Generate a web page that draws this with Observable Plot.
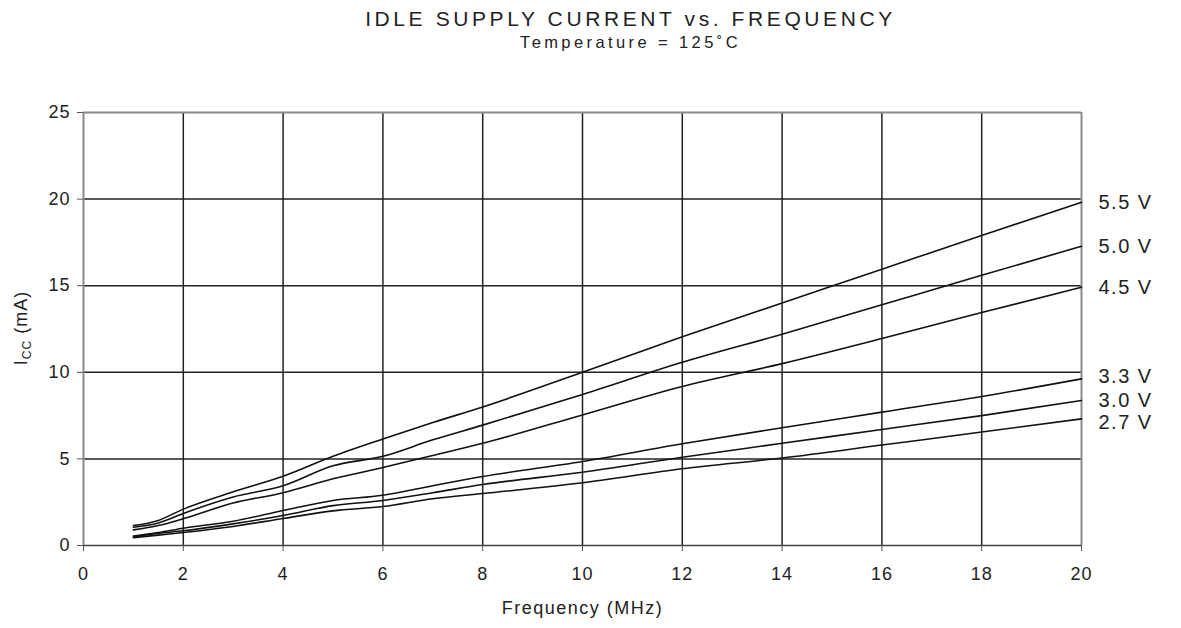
<!DOCTYPE html>
<html><head><meta charset="utf-8">
<script src="https://cdn.jsdelivr.net/npm/d3@7"></script>
<script src="https://cdn.jsdelivr.net/npm/@observablehq/plot@0.6"></script>
<style>
body{margin:0;background:#fff;font-family:"Liberation Sans",Arial,sans-serif;}
#hdr{position:relative;width:1181px;height:60px;}
#t1{position:absolute;left:40px;width:1181px;top:7px;text-align:center;font-size:21px;letter-spacing:3.6px;color:#222;white-space:nowrap;}
#t2{position:absolute;left:40px;width:1181px;top:33px;text-align:center;font-size:16.5px;letter-spacing:3.4px;color:#222;white-space:nowrap;}
</style></head>
<body>
<div id="hdr"><div id="t1">IDLE SUPPLY CURRENT vs. FREQUENCY</div><div id="t2">Temperature = 125˚C</div></div>
<div id="chart"></div>
<script>
const freq = [1, 1.5, 2, 3, 4, 5, 6, 7, 8, 10, 12, 14, 16, 18, 20];
const v55 = [1.15, 1.45, 2.1, 3.1, 4.0, 5.15, 6.15, 7.1, 8.0, 10.0, 12.05, 14.0, 15.95, 17.9, 19.82];
const v50 = [1.05, 1.3, 1.85, 2.8, 3.45, 4.6, 5.15, 6.1, 6.95, 8.72, 10.58, 12.2, 13.9, 15.6, 17.28];
const v45 = [0.9, 1.15, 1.55, 2.45, 3.05, 3.85, 4.5, 5.2, 5.9, 7.54, 9.18, 10.5, 11.95, 13.45, 14.91];
const v33 = [0.55, 0.75, 1.0, 1.4, 2.02, 2.6, 2.9, 3.45, 3.98, 4.85, 5.87, 6.8, 7.7, 8.6, 9.62];
const v30 = [0.5, 0.7, 0.85, 1.25, 1.73, 2.3, 2.6, 3.05, 3.52, 4.23, 5.1, 5.9, 6.7, 7.5, 8.37];
const v27 = [0.45, 0.6, 0.75, 1.1, 1.56, 2.0, 2.25, 2.7, 3.0, 3.62, 4.43, 5.05, 5.8, 6.55, 7.31];
const seriesNames = ["5.5 V", "5.0 V", "4.5 V", "3.3 V", "3.0 V", "2.7 V"];
const seriesVals = [v55, v50, v45, v33, v30, v27];
const labelShift = [0, 0, 0, -2, 0, 4];
const xTicks = [0, 2, 4, 6, 8, 10, 12, 14, 16, 18, 20];
const yTicks = [0, 5, 10, 15, 20, 25];

const data = [];
seriesNames.forEach((s, i) => freq.forEach((f, j) => data.push({series: s, f, i: seriesVals[i][j]})));
const last = freq.length - 1;
const labelMarks = seriesNames.map((s, i) =>
  Plot.text([{series: s, f: freq[last], i: seriesVals[i][last]}],
    {x: "f", y: "i", text: "series", textAnchor: "start", dx: 17, dy: labelShift[i], fontSize: 20, fill: "#222"}));

const plot = Plot.plot({
  width: 1181, height: 568,
  marginLeft: 83, marginRight: 100, marginTop: 52, marginBottom: 83,
  style: {fontFamily: "'Liberation Sans', Arial, sans-serif", fontSize: "18px", color: "#222", background: "#fff"},
  x: {domain: [0, 20], ticks: xTicks, label: null},
  y: {domain: [0, 25], ticks: yTicks, label: null},
  marks: [
    Plot.gridX(xTicks.filter(d => d > 0 && d < 20), {stroke: "#222", strokeOpacity: 1, strokeWidth: 1.5}),
    Plot.gridY(yTicks.filter(d => d > 0 && d < 25), {stroke: "#222", strokeOpacity: 1, strokeWidth: 1.5}),
    Plot.ruleY([25], {stroke: "#8a8a8a", strokeWidth: 2}),
    Plot.ruleX([0, 20], {stroke: "#8a8a8a", strokeWidth: 2}),
    Plot.ruleY([0], {stroke: "#444", strokeWidth: 1.5}),
    Plot.axisX({ticks: xTicks, tickSize: 6, tickPadding: 16, stroke: "#555", fontSize: 18, label: null}),
    Plot.axisY({ticks: yTicks, tickSize: 6, tickPadding: 7, stroke: "#555", fontSize: 18, label: null}),
    Plot.line(data, {x: "f", y: "i", z: "series", stroke: "#111", strokeWidth: 1.6, curve: "monotone-x"}),
    ...labelMarks,
    Plot.text(["Frequency (MHz)"], {frameAnchor: "bottom", dy: 68, fontSize: 18, fill: "#222"})
  ]
});
document.getElementById("chart").appendChild(plot);
const svg = d3.select(plot);
svg.selectAll("g[aria-label='x-axis tick label'] text, g[aria-label='y-axis tick label'] text").attr("letter-spacing", "1px");
svg.selectAll("g[aria-label='text'] text").attr("letter-spacing", "1.5px");
const lab = svg.append("text")
  .attr("transform", "translate(27,268) rotate(-90)")
  .attr("text-anchor", "middle")
  .attr("font-size", 18).attr("fill", "#222").attr("letter-spacing", "1px")
  .attr("font-family", "'Liberation Sans', Arial, sans-serif");
lab.append("tspan").text("I");
lab.append("tspan").attr("font-size", 12).attr("dy", 4).text("CC");
lab.append("tspan").attr("dy", -4).text(" (mA)");
</script>
</body></html>
